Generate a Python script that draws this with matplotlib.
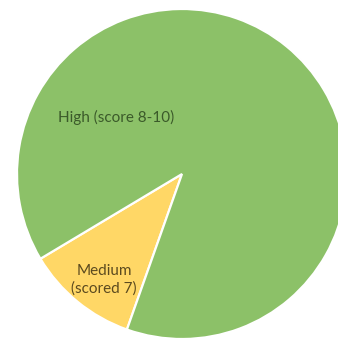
import matplotlib.pyplot as plt

labels = ['Medium\n(scored 7)', 'High (score 8-10)']
values = [11, 89]
colors = ['#FFD766', '#8CC168']
text_colors = ['#5B4A1F', '#3B5A2A']

plt.rcParams['font.family'] = ['Lato', 'DejaVu Sans']

fig = plt.figure(figsize=(3.38, 3.40), dpi=100)
ax = fig.add_axes([0, 0, 1, 1])

r_px = 165.0
cx, cy = 182.0, 174.0
ax.pie(values, colors=colors, startangle=250.5, counterclock=False,
       radius=1.0, wedgeprops=dict(edgecolor='white', linewidth=1.6))
ax.set_aspect('auto')
ax.set_xlim(-cx / r_px, (338 - cx) / r_px)
ax.set_ylim(-(340 - cy) / r_px, cy / r_px)
ax.axis('off')

# label positions (pixel -> data)
label_px = [(104, 280), (116, 117)]
for lab, (px, py), tc in zip(labels, label_px, text_colors):
    ax.text((px - cx) / r_px, (cy - py) / r_px, lab, ha='center', va='center',
            fontsize=11, color=tc, linespacing=1.25)

fig.savefig('out.png', dpi=100, facecolor='white')
